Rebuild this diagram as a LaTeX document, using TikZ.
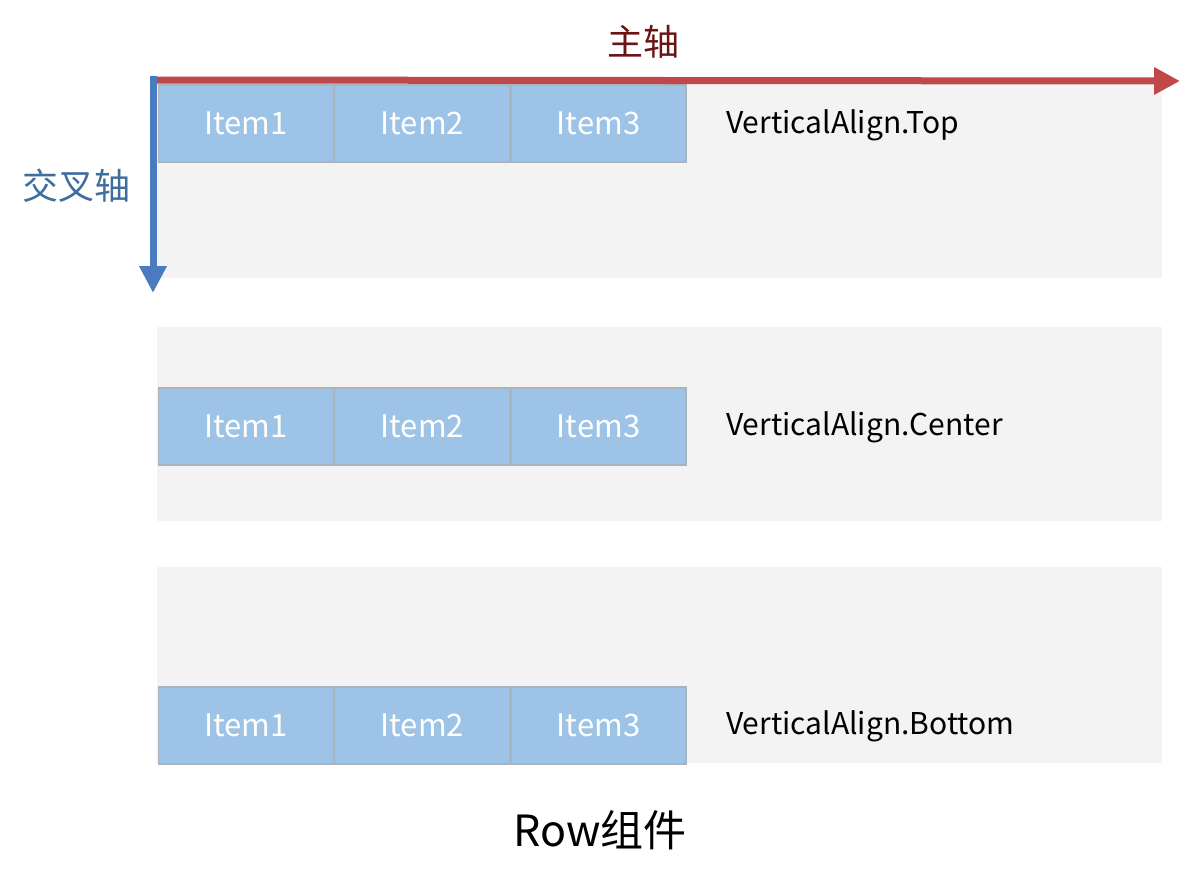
\documentclass[tikz,border=0pt]{standalone}
\usepackage{fontspec}
\setmainfont{Noto Sans CJK SC}
\usetikzlibrary{arrows.meta}
\definecolor{panelgray}{HTML}{F3F3F3}
\definecolor{itemblue}{HTML}{9DC3E6}
\definecolor{itemborder}{HTML}{A9B4BE}
\definecolor{axisred}{HTML}{C0474A}
\definecolor{axisblue}{HTML}{4A7BBF}
\definecolor{mainlabel}{HTML}{6A1414}
\definecolor{crosslabel}{HTML}{3E6E9E}
\tikzset{
  panel/.style={fill=panelgray, draw=none},
  itembox/.style={draw=itemborder, line width=1.2pt, fill=itemblue, minimum width=175pt, minimum height=77pt, inner sep=0pt, text=white, font=\fontsize{31}{34}\selectfont, anchor=west},
  alignlabel/.style={anchor=west, inner sep=0pt, font=\fontsize{30}{33}\selectfont, text=black},
  redaxis/.style={draw=axisred, line width=7pt, -{Triangle[length=26pt,width=26pt]}},
  blueaxis/.style={draw=axisblue, line width=7pt, -{Triangle[length=27pt,width=26pt]}}
}
\begin{document}
\begin{tikzpicture}[x=1pt,y=-1pt]
\useasboundingbox (0,0) rectangle (1191,878);
\fill[white] (0,0) rectangle (1191,878);
% panels
\fill[panel] (157,82) rectangle (1162,278);
\fill[panel] (157,327) rectangle (1162,521);
\fill[panel] (157,567) rectangle (1162,763);
% row 1
\node[itembox] (a1) at (158,123.5) {Item1};
\node[itembox] (a2) at (a1.east) {Item2};
\node[itembox] (a3) at (a2.east) {Item3};
\node[alignlabel] (la) at (726,125) {VerticalAlign.Top};
% row 2
\node[itembox] (b1) at (158,426.5) {Item1};
\node[itembox] (b2) at (b1.east) {Item2};
\node[itembox] (b3) at (b2.east) {Item3};
\node[alignlabel] (lb) at (726,427) {VerticalAlign.Center};
% row 3
\node[itembox] (c1) at (158,725.5) {Item1};
\node[itembox] (c2) at (c1.east) {Item2};
\node[itembox] (c3) at (c2.east) {Item3};
\node[alignlabel] (lc) at (726,726) {VerticalAlign.Bottom};
% axes
\coordinate (origin) at (152,80);
\coordinate (mainend) at (1180,81);
\coordinate (crossstart) at (153,76);
\coordinate (crossend) at (153,293);
\draw[redaxis] (origin) -- (mainend);
\draw[blueaxis] (crossstart) -- (crossend);
\node[font=\fontsize{36}{40}\selectfont, text=mainlabel] (main) at (643,42) {主轴};
\node[font=\fontsize{36}{40}\selectfont, text=crosslabel] (cross) at (76,186) {交叉轴};
\node[font=\fontsize{43}{47}\selectfont, text=black] (title) at (600,830) {Row组件};
\end{tikzpicture}
\end{document}
